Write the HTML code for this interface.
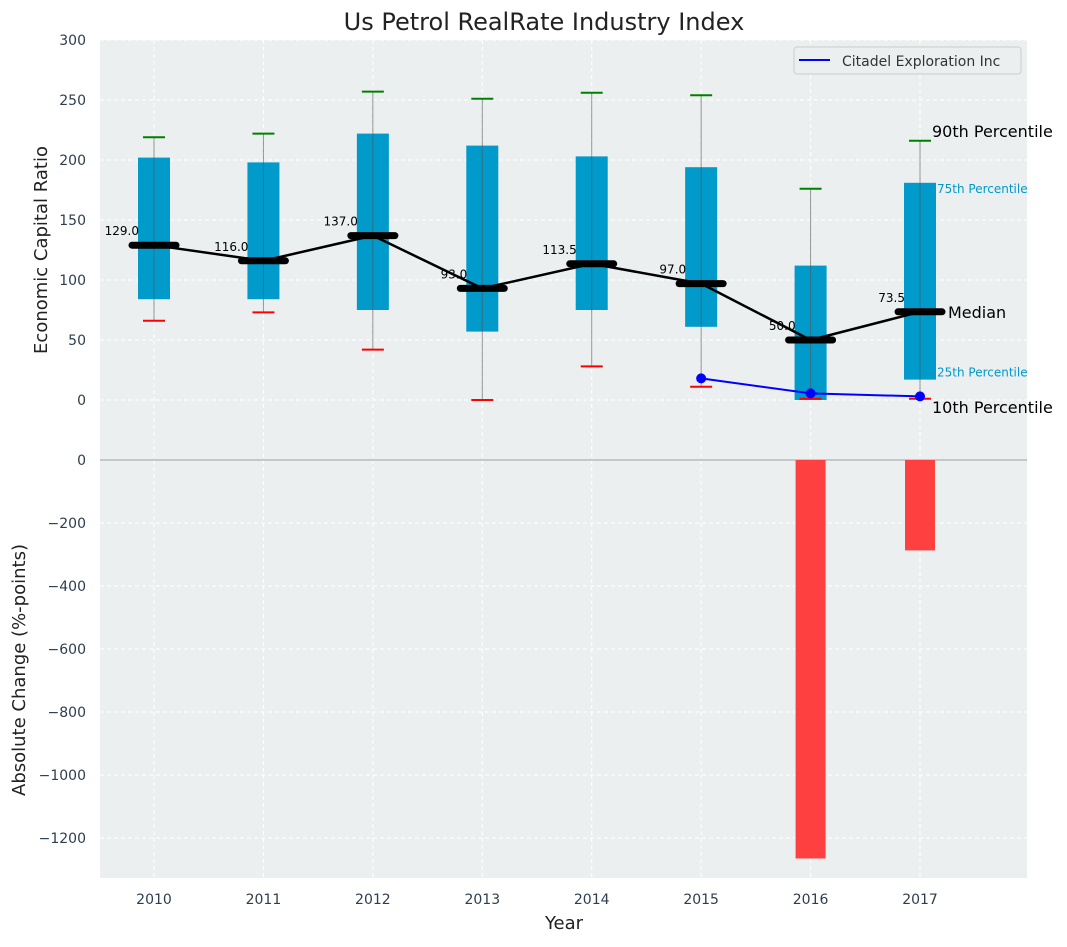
<!DOCTYPE html>
<html><head><meta charset="utf-8"><style>
body{margin:0;background:#fff;font-family:"Liberation Sans","DejaVu Sans",sans-serif}
</style></head><body>
<svg id="chart" width="1067" height="942" xmlns="http://www.w3.org/2000/svg" font-family="DejaVu Sans, Liberation Sans, sans-serif"></svg>
<script>
const years=[2010,2011,2012,2013,2014,2015,2016,2017];
const p10=[66,73,42,0,28,11,1,1];
const p25=[84,84,75,57,75,61,0,17];
const med=[129,116,137,93,113.5,97,50,73.5];
const p75=[202,198,222,212,203,194,112,181];
const p90=[219,222,257,251,256,254,176,216];
const citYears=[2015,2016,2017];
const citVals=[18,5.5,3];
const chgYears=[2016,2017];
const chgVals=[-1265,-287];
const topTicks=[0,50,100,150,200,250,300];
const botTicks=[0,-200,-400,-600,-800,-1000,-1200];

const svg=document.getElementById('chart');
const NS='http://www.w3.org/2000/svg';
function mk(t,a,name,parent){const e=document.createElementNS(NS,t);for(const k in a)e.setAttribute(k,a[k]);


(parent||svg).appendChild(e);return e;}
const L=100,R=1027;
const x=v=>154+(v-2010)*109.43;
const yT=v=>400-v*1.2;
const yB=v=>460-v*0.315;
const fmt=v=>String(v).replace('-','\u2212');
mk('rect',{x:L,y:40,width:R-L,height:420,fill:'#eceff0'},'top-plot-area');
mk('rect',{x:L,y:460,width:R-L,height:418,fill:'#eceff0'},'bottom-plot-area');
years.forEach(yr=>{mk('line',{x1:x(yr),x2:x(yr),y1:40,y2:878,stroke:'#fff','stroke-dasharray':'4,3','stroke-width':1},'x-grid-line');
 const t=mk('text',{x:x(yr),y:904,'text-anchor':'middle','font-size':14,fill:'#2c3e50'},'x-tick-label');t.textContent=yr;});
topTicks.forEach(v=>{mk('line',{x1:L,x2:R,y1:yT(v),y2:yT(v),stroke:'#fff','stroke-dasharray':'4,3'},'y-grid-line');
 const t=mk('text',{x:86,y:yT(v)+5,'text-anchor':'end','font-size':14,fill:'#2c3e50'},'y-tick-label');t.textContent=fmt(v);});
botTicks.forEach(v=>{mk('line',{x1:L,x2:R,y1:yB(v),y2:yB(v),stroke:'#fff','stroke-dasharray':'4,3'},'y2-grid-line');
 const t=mk('text',{x:86,y:yB(v)+5,'text-anchor':'end','font-size':14,fill:'#2c3e50'},'y2-tick-label');t.textContent=fmt(v);});
mk('line',{x1:L,x2:R,y1:460,y2:460,stroke:'#b8bcbe','stroke-width':1.5},'zero-divider');
years.forEach((yr,i)=>{const cx=x(yr);
 mk('rect',{x:cx-16,y:yT(p75[i]),width:32,height:yT(p25[i])-yT(p75[i]),fill:'#009acb'},'box-'+yr);
 mk('line',{x1:cx,x2:cx,y1:yT(p90[i]),y2:yT(p10[i]),stroke:'#555','stroke-opacity':0.6,'stroke-width':1},'whisker-'+yr);
 mk('line',{x1:cx-11,x2:cx+11,y1:yT(p90[i]),y2:yT(p90[i]),stroke:'green','stroke-width':2},'cap-90-'+yr);
 mk('line',{x1:cx-11,x2:cx+11,y1:yT(p10[i]),y2:yT(p10[i]),stroke:'red','stroke-width':2},'cap-10-'+yr);
});
mk('polyline',{points:years.map((yr,i)=>x(yr)+','+yT(med[i])).join(' '),fill:'none',stroke:'#000','stroke-width':2.5},'median-line');
years.forEach((yr,i)=>{const cx=x(yr);
 mk('line',{x1:cx-22,x2:cx+22,y1:yT(med[i]),y2:yT(med[i]),stroke:'#000','stroke-width':7,'stroke-linecap':'round'},'median-bar-'+yr);
 const t=mk('text',{x:cx-15,y:yT(med[i])-10,'text-anchor':'end','font-size':12,fill:'#000'},'median-label-'+yr);t.textContent=med[i].toFixed(1);
});
mk('polyline',{points:citYears.map((yr,i)=>x(yr)+','+yT(citVals[i])).join(' '),fill:'none',stroke:'blue','stroke-width':2},'citadel-line');
citYears.forEach((yr,i)=>mk('circle',{cx:x(yr),cy:yT(citVals[i]),r:5,fill:'blue'},'citadel-point-'+yr));
chgYears.forEach((yr,i)=>mk('rect',{x:x(yr)-15,y:460,width:30,height:yB(chgVals[i])-460,fill:'#ff4040'},'change-bar-'+yr));
const lx=x(2017);
[['90th Percentile',lx+12,yT(p90[7])-4,16,'#000'],['75th Percentile',lx+17,yT(p75[7])+10,12,'#0099cc'],['Median',lx+28,yT(med[7])+6,16,'#000'],['25th Percentile',lx+17,yT(p25[7])-3,12,'#0099cc'],['10th Percentile',lx+12,yT(p10[7])+14,16,'#000']].forEach(a=>{
 const t=mk('text',{x:a[1],y:a[2],'font-size':a[3],fill:a[4]},'annotation');t.textContent=a[0];});
mk('rect',{x:794,y:47,width:227,height:27,rx:3,fill:'#eceff0',stroke:'#ccc'},'legend');
mk('line',{x1:799,x2:830,y1:60,y2:60,stroke:'blue','stroke-width':2},'legend-swatch');
let t=mk('text',{x:842,y:66,'font-size':14,fill:'#333'},'legend-label');t.textContent='Citadel Exploration Inc';
t=mk('text',{x:544,y:30,'text-anchor':'middle','font-size':24,fill:'#222'},'chart-title');t.textContent='Us Petrol RealRate Industry Index';
t=mk('text',{x:564,y:929,'text-anchor':'middle','font-size':18,fill:'#222'},'x-axis-title');t.textContent='Year';
t=mk('text',{x:47,y:250,'text-anchor':'middle','font-size':18,fill:'#222',transform:'rotate(-90 47 250)'},'y-axis-title');t.textContent='Economic Capital Ratio';
t=mk('text',{x:25,y:670,'text-anchor':'middle','font-size':18,fill:'#222',transform:'rotate(-90 25 670)'},'y2-axis-title');t.textContent='Absolute Change (%-points)';
</script></body></html>
